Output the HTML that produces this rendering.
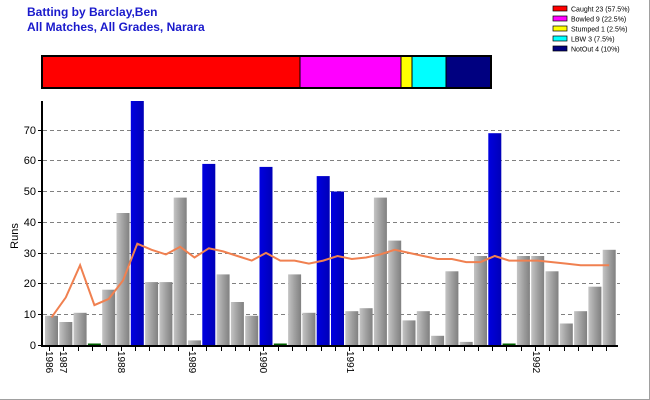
<!DOCTYPE html>
<html><head><meta charset="utf-8"><style>
html,body{margin:0;padding:0;background:#fff}
svg{display:block;font-family:"Liberation Sans",Arial,sans-serif}
</style></head><body>
<svg width="650" height="400" viewBox="0 0 650 400" xmlns="http://www.w3.org/2000/svg">
<defs>
<linearGradient id="g" x1="0" x2="1" y1="0" y2="0"><stop offset="0" stop-color="#c4c4c4"/><stop offset="0.5" stop-color="#a0a0a0"/><stop offset="1" stop-color="#808080"/></linearGradient>
<linearGradient id="b" x1="0" x2="1" y1="0" y2="0"><stop offset="0" stop-color="#0000e0"/><stop offset="1" stop-color="#0000b8"/></linearGradient>
</defs>
<rect x="0" y="0" width="650" height="400" fill="#fff"/>
<line x1="649.5" y1="0" x2="649.5" y2="400" stroke="#a0a0a0"/>
<line x1="0" y1="399.5" x2="650" y2="399.5" stroke="#a0a0a0"/>
<text x="27" y="16" font-size="12" font-weight="bold" fill="#1a1acc">Batting by Barclay,Ben</text>
<text x="27" y="31" font-size="12" font-weight="bold" fill="#1a1acc">All Matches, All Grades, Narara</text>
<g stroke="#000" stroke-width="1">
<rect x="42" y="56" width="258" height="32" fill="#ff0000"/>
<rect x="300" y="56" width="101" height="32" fill="#ff00ff"/>
<rect x="401" y="56" width="11" height="32" fill="#ffff00"/>
<rect x="412" y="56" width="34" height="32" fill="#00ffff"/>
<rect x="446" y="56" width="45" height="32" fill="#000080"/>
</g>
<rect x="42" y="56" width="449" height="32" fill="none" stroke="#000" stroke-width="2"/>
<g font-size="7" fill="#000">
<rect x="553" y="6" width="14" height="5" fill="#ff0000" stroke="#000" stroke-width="0.7"/><text x="571" y="11.5">Caught 23 (57.5%)</text>
<rect x="553" y="16" width="14" height="5" fill="#ff00ff" stroke="#000" stroke-width="0.7"/><text x="571" y="21.5">Bowled 9 (22.5%)</text>
<rect x="553" y="26" width="14" height="5" fill="#ffff00" stroke="#000" stroke-width="0.7"/><text x="571" y="31.5">Stumped 1 (2.5%)</text>
<rect x="553" y="36" width="14" height="5" fill="#00ffff" stroke="#000" stroke-width="0.7"/><text x="571" y="41.5">LBW 3 (7.5%)</text>
<rect x="553" y="46" width="14" height="5" fill="#000080" stroke="#000" stroke-width="0.7"/><text x="571" y="51.5">NotOut 4 (10%)</text>
</g>
<g stroke="#808080" stroke-dasharray="4,3" stroke-width="1">
<line x1="43" y1="314.5" x2="620" y2="314.5"/>
<line x1="43" y1="283.5" x2="620" y2="283.5"/>
<line x1="43" y1="253.5" x2="620" y2="253.5"/>
<line x1="43" y1="222.5" x2="620" y2="222.5"/>
<line x1="43" y1="191.5" x2="620" y2="191.5"/>
<line x1="43" y1="160.5" x2="620" y2="160.5"/>
<line x1="43" y1="130.5" x2="620" y2="130.5"/>
</g>
<g font-size="11" fill="#000" text-anchor="end">
<text x="36" y="349">0</text><text x="36" y="318">10</text><text x="36" y="287">20</text><text x="36" y="257">30</text><text x="36" y="226">40</text><text x="36" y="195">50</text><text x="36" y="164">60</text><text x="36" y="134">70</text>
</g>
<g stroke="#000"><line x1="38" y1="345.5" x2="42" y2="345.5"/><line x1="38" y1="314.5" x2="42" y2="314.5"/><line x1="38" y1="283.5" x2="42" y2="283.5"/><line x1="38" y1="253.5" x2="42" y2="253.5"/><line x1="38" y1="222.5" x2="42" y2="222.5"/><line x1="38" y1="191.5" x2="42" y2="191.5"/><line x1="38" y1="160.5" x2="42" y2="160.5"/><line x1="38" y1="130.5" x2="42" y2="130.5"/></g>
<text transform="translate(18,236) rotate(-90)" font-size="11" text-anchor="middle">Runs</text>
<g fill="url(#g)">
<rect x="45" y="315.8" width="13" height="29.2"/>
<rect x="59.3" y="322" width="13" height="23"/>
<rect x="73.6" y="312.8" width="13" height="32.2"/>
<rect x="102.2" y="289.7" width="13" height="55.3"/>
<rect x="116.5" y="213" width="13" height="132"/>
<rect x="145.1" y="282.1" width="13" height="62.9"/>
<rect x="159.4" y="282.1" width="13" height="62.9"/>
<rect x="173.7" y="197.6" width="13" height="147.4"/>
<rect x="188" y="340.4" width="13" height="4.6"/>
<rect x="216.6" y="274.4" width="13" height="70.6"/>
<rect x="230.9" y="302" width="13" height="43"/>
<rect x="245.2" y="315.8" width="13" height="29.2"/>
<rect x="288.1" y="274.4" width="13" height="70.6"/>
<rect x="302.4" y="312.8" width="13" height="32.2"/>
<rect x="345.3" y="311.2" width="13" height="33.8"/>
<rect x="359.6" y="308.2" width="13" height="36.8"/>
<rect x="373.9" y="197.6" width="13" height="147.4"/>
<rect x="388.2" y="240.6" width="13" height="104.4"/>
<rect x="402.5" y="320.4" width="13" height="24.6"/>
<rect x="416.8" y="311.2" width="13" height="33.8"/>
<rect x="431.1" y="335.8" width="13" height="9.2"/>
<rect x="445.4" y="271.3" width="13" height="73.7"/>
<rect x="459.7" y="341.9" width="13" height="3.1"/>
<rect x="474" y="256" width="13" height="89"/>
<rect x="516.9" y="256" width="13" height="89"/>
<rect x="531.2" y="256" width="13" height="89"/>
<rect x="545.5" y="271.3" width="13" height="73.7"/>
<rect x="559.8" y="323.5" width="13" height="21.5"/>
<rect x="574.1" y="311.2" width="13" height="33.8"/>
<rect x="588.4" y="286.7" width="13" height="58.3"/>
<rect x="602.7" y="249.8" width="13" height="95.2"/>
</g>
<g fill="url(#b)">
<rect x="130.8" y="101" width="13" height="244"/>
<rect x="202.3" y="163.9" width="13" height="181.1"/>
<rect x="259.5" y="166.9" width="13" height="178.1"/>
<rect x="316.7" y="176.1" width="13" height="168.9"/>
<rect x="331" y="191.5" width="13" height="153.5"/>
<rect x="488.3" y="133.2" width="13" height="211.8"/>
</g>
<g fill="#006000"><rect x="87.9" y="343.5" width="13" height="1.5"/><rect x="273.8" y="343.5" width="13" height="1.5"/><rect x="502.6" y="343.5" width="13" height="1.5"/></g>
<polyline fill="none" stroke="#f08050" stroke-width="2" points="51.5,317.4 65.8,297.4 80.1,265.2 94.4,305.1 108.7,298.9 123,280.5 137.3,243.7 151.6,249.8 165.9,254.4 180.2,246.8 194.5,257.5 208.8,248.3 223.1,251.4 237.4,256 251.7,260.6 266,252.9 280.3,260.6 294.6,260.6 308.9,263.6 323.2,260.6 337.5,256 351.8,259 366.1,257.5 380.4,254.4 394.7,249.8 409,252.9 423.3,256 437.6,259 451.9,259 466.2,262.1 480.5,262.1 494.8,256 509.1,260.6 523.4,260.6 537.7,260.6 552,262.1 566.3,263.6 580.6,265.2 594.9,265.2 609.2,265.2"/>
<line x1="42" y1="101" x2="42" y2="347" stroke="#000" stroke-width="2"/>
<line x1="41" y1="346" x2="618" y2="346" stroke="#000" stroke-width="2"/>
<g stroke="#000" stroke-width="1">
<line x1="49.5" y1="346" x2="49.5" y2="351"/><line x1="63.5" y1="346" x2="63.5" y2="351"/><line x1="78.5" y1="346" x2="78.5" y2="351"/><line x1="92.5" y1="346" x2="92.5" y2="351"/><line x1="106.5" y1="346" x2="106.5" y2="351"/><line x1="121.5" y1="346" x2="121.5" y2="351"/><line x1="135.5" y1="346" x2="135.5" y2="351"/><line x1="149.5" y1="346" x2="149.5" y2="351"/><line x1="164.5" y1="346" x2="164.5" y2="351"/><line x1="178.5" y1="346" x2="178.5" y2="351"/><line x1="192.5" y1="346" x2="192.5" y2="351"/><line x1="206.5" y1="346" x2="206.5" y2="351"/><line x1="221.5" y1="346" x2="221.5" y2="351"/><line x1="235.5" y1="346" x2="235.5" y2="351"/><line x1="249.5" y1="346" x2="249.5" y2="351"/><line x1="263.5" y1="346" x2="263.5" y2="351"/><line x1="278.5" y1="346" x2="278.5" y2="351"/><line x1="292.5" y1="346" x2="292.5" y2="351"/><line x1="306.5" y1="346" x2="306.5" y2="351"/><line x1="321.5" y1="346" x2="321.5" y2="351"/><line x1="335.5" y1="346" x2="335.5" y2="351"/><line x1="349.5" y1="346" x2="349.5" y2="351"/><line x1="363.5" y1="346" x2="363.5" y2="351"/><line x1="378.5" y1="346" x2="378.5" y2="351"/><line x1="392.5" y1="346" x2="392.5" y2="351"/><line x1="406.5" y1="346" x2="406.5" y2="351"/><line x1="421.5" y1="346" x2="421.5" y2="351"/><line x1="435.5" y1="346" x2="435.5" y2="351"/><line x1="449.5" y1="346" x2="449.5" y2="351"/><line x1="464.5" y1="346" x2="464.5" y2="351"/><line x1="478.5" y1="346" x2="478.5" y2="351"/><line x1="492.5" y1="346" x2="492.5" y2="351"/><line x1="506.5" y1="346" x2="506.5" y2="351"/><line x1="521.5" y1="346" x2="521.5" y2="351"/><line x1="535.5" y1="346" x2="535.5" y2="351"/><line x1="549.5" y1="346" x2="549.5" y2="351"/><line x1="564.5" y1="346" x2="564.5" y2="351"/><line x1="578.5" y1="346" x2="578.5" y2="351"/><line x1="592.5" y1="346" x2="592.5" y2="351"/><line x1="606.5" y1="346" x2="606.5" y2="351"/>
</g>
<g font-size="10" fill="#000">
<text transform="translate(46,351) rotate(90)">1986</text>
<text transform="translate(60,351) rotate(90)">1987</text>
<text transform="translate(118,351) rotate(90)">1988</text>
<text transform="translate(189,351) rotate(90)">1989</text>
<text transform="translate(260,351) rotate(90)">1990</text>
<text transform="translate(347,351) rotate(90)">1991</text>
<text transform="translate(533,351) rotate(90)">1992</text>
</g>
</svg>
</body></html>
